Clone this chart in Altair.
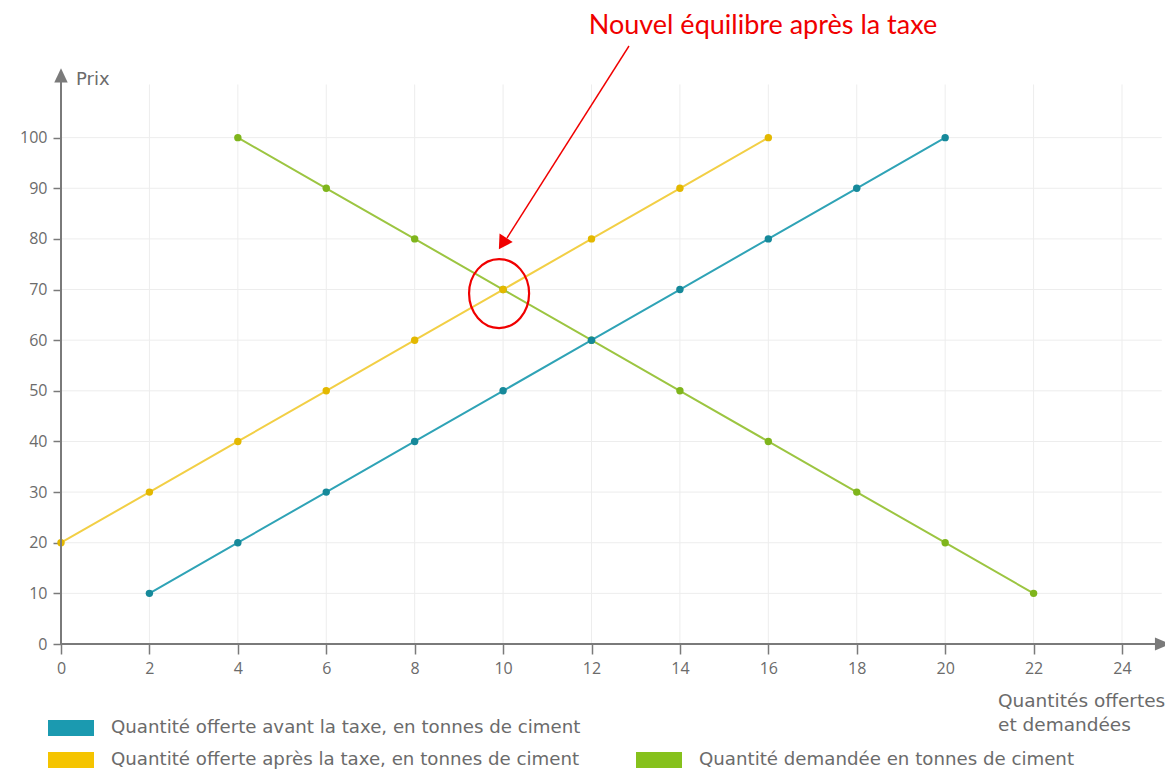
import altair as alt
import pandas as pd

# ---------------- data ----------------
before_x = [2, 4, 6, 8, 10, 12, 14, 16, 18, 20]
before_y = [10, 20, 30, 40, 50, 60, 70, 80, 90, 100]
after_x = [0, 2, 4, 6, 8, 10, 12, 14, 16]
after_y = [20, 30, 40, 50, 60, 70, 80, 90, 100]
demand_x = [4, 6, 8, 10, 12, 14, 16, 18, 20, 22]
demand_y = [100, 90, 80, 70, 60, 50, 40, 30, 20, 10]
x_ticks = [0, 2, 4, 6, 8, 10, 12, 14, 16, 18, 20, 22, 24]
y_ticks = [0, 10, 20, 30, 40, 50, 60, 70, 80, 90, 100]
series_names = [
    "Quantité offerte avant la taxe, en tonnes de ciment",
    "Quantité offerte après la taxe, en tonnes de ciment",
    "Quantité demandée en tonnes de ciment",
]
series_line_colors = ["#2fa3b6", "#f2cf45", "#9cc541"]
series_point_colors = ["#16899a", "#e3b800", "#7fb51c"]
legend_colors = ["#1b9ab0", "#f5c400", "#86c11c"]
eq_x = [10]
eq_y = [70]
annotation = "Nouvel équilibre après la taxe"
y_label = "Prix"
x_label = ["Quantités offertes", "et demandées"]

FONT = "Open Sans"
TFONT = "DejaVu Sans"
GREY = "#6b6b6b"
AX = "#7a7a7a"

X_SCALE = alt.Scale(domain=[0, 24], nice=False, zero=False)
Y_SCALE = alt.Scale(domain=[0, 110], nice=False, zero=False)
X_AXIS = alt.Axis(values=x_ticks, title=None, grid=False, domain=False, tickSize=10,
                  tickColor=AX, tickWidth=1.5, labelFontSize=16, labelColor=GREY,
                  labelFont=FONT, labelPadding=6, labelFlush=False, labelOverlap=False)
Y_AXIS = alt.Axis(values=y_ticks, title=None, grid=False, domain=False, tickSize=8,
                  tickColor=AX, tickWidth=1.5, labelFontSize=16, labelColor=GREY,
                  labelFont=FONT, labelPadding=6, labelOverlap=False)


def X(f="x"):
    return alt.X(f + ":Q", scale=X_SCALE, axis=X_AXIS)


def Y(f="y"):
    return alt.Y(f + ":Q", scale=Y_SCALE, axis=Y_AXIS)


one = pd.DataFrame({"a": [0]})

# grid
gv = pd.DataFrame({"x": x_ticks[1:], "y": [0] * 12, "y2": [110.5] * 12})
gh = pd.DataFrame({"y": y_ticks[1:], "x": [0] * 10, "x2": [24.9] * 10})
grid_v = alt.Chart(gv).mark_rule(color="#ededed", strokeWidth=1).encode(
    x=X(), y=Y(), y2="y2:Q")
grid_h = alt.Chart(gh).mark_rule(color="#ededed", strokeWidth=1).encode(
    y=Y(), x=X(), x2="x2:Q")

layers = [grid_v, grid_h]

series = [(demand_x, demand_y, 2), (after_x, after_y, 1), (before_x, before_y, 0)]
for xs, ys, i in series:
    df = pd.DataFrame({"x": xs, "y": ys})
    layers.append(alt.Chart(df).mark_line(color=series_line_colors[i], strokeWidth=2,
                                          clip=False).encode(x=X(), y=Y()))
    layers.append(alt.Chart(df).mark_circle(color=series_point_colors[i], size=55,
                                            opacity=1, clip=False).encode(x=X(), y=Y()))

# axes lines with arrows
ax_x = pd.DataFrame({"x": [0], "x2": [24.75], "y": [0]})
ax_y = pd.DataFrame({"x": [0], "y": [0], "y2": [111.0]})
layers.append(alt.Chart(ax_x).mark_rule(color=AX, strokeWidth=2).encode(
    x=X(), x2="x2:Q", y=Y()))
layers.append(alt.Chart(ax_y).mark_rule(color=AX, strokeWidth=2).encode(
    x=X(), y=Y(), y2="y2:Q"))
layers.append(alt.Chart(pd.DataFrame({"x": [24.92], "y": [0]})).mark_point(
    shape="M-1,-0.85L1,0L-1,0.85Z", filled=True, color=AX, opacity=1, size=240,
    clip=False).encode(x=X(), y=Y()))
layers.append(alt.Chart(pd.DataFrame({"x": [0], "y": [112.3]})).mark_point(
    shape="M-0.95,1L0,-1L0.95,1Z", filled=True, color=AX, opacity=1, size=200,
    clip=False).encode(x=X(), y=Y()))

# axis titles
layers.append(alt.Chart(one).mark_text(text=y_label, align="left", baseline="middle",
                                       font=TFONT, fontSize=18, color=GREY).encode(
    x=alt.value(15), y=alt.value(-7)))
for k, t in enumerate(x_label):
    layers.append(alt.Chart(one).mark_text(text=t, align="left", baseline="middle",
                                           font=TFONT, fontSize=18.5, color=GREY).encode(
        x=alt.value(937), y=alt.value(614 + 24 * k)))

# legend
leg_pos = [(-13, 641), (-13, 673), (575, 673)]
for i, (lx, ly) in enumerate(leg_pos):
    layers.append(alt.Chart(one).mark_rect(color=legend_colors[i]).encode(
        x=alt.value(lx), x2=alt.value(lx + 46), y=alt.value(ly - 8), y2=alt.value(ly + 8)))
    layers.append(alt.Chart(one).mark_text(text=series_names[i], align="left",
                                           baseline="middle", font=TFONT, fontSize=18.2,
                                           color=GREY).encode(
        x=alt.value(lx + 63), y=alt.value(ly)))

# red annotation
RED = "#f00000"
layers.append(alt.Chart(pd.DataFrame({"x": eq_x, "y": eq_y})).mark_point(
    shape="M-0.87,0A0.87,1,0,1,0,0.87,0A0.87,1,0,1,0,-0.87,0Z", filled=False,
    color=RED, strokeWidth=2.2, opacity=1, size=4761, clip=False).encode(
    x=X(), y=Y(), xOffset=alt.value(-4), yOffset=alt.value(4)))
layers.append(alt.Chart(one).mark_rule(color=RED, strokeWidth=1.4).encode(
    x=alt.value(568), y=alt.value(-41), x2=alt.value(446), y2=alt.value(151)))
layers.append(alt.Chart(one).mark_point(
    shape="M-1,0.87L0,-0.87L1,0.87Z", filled=True, color=RED, opacity=1, size=243,
    angle=212.4).encode(x=alt.value(441.5), y=alt.value(156.5)))
layers.append(alt.Chart(one).mark_text(text=annotation, align="center", baseline="middle",
                                       font="Lato", fontSize=27, color=RED).encode(
    x=alt.value(702), y=alt.value(-61)))

chart = alt.layer(*layers).properties(
    width=1061, height=557,
    padding={"left": 53, "top": 79, "right": 43, "bottom": 126},
    autosize=alt.AutoSizeParams(type="none"),
    background="white",
).configure_view(stroke=None)

chart.save("out.html", embed_options={"renderer": "svg", "actions": False})
